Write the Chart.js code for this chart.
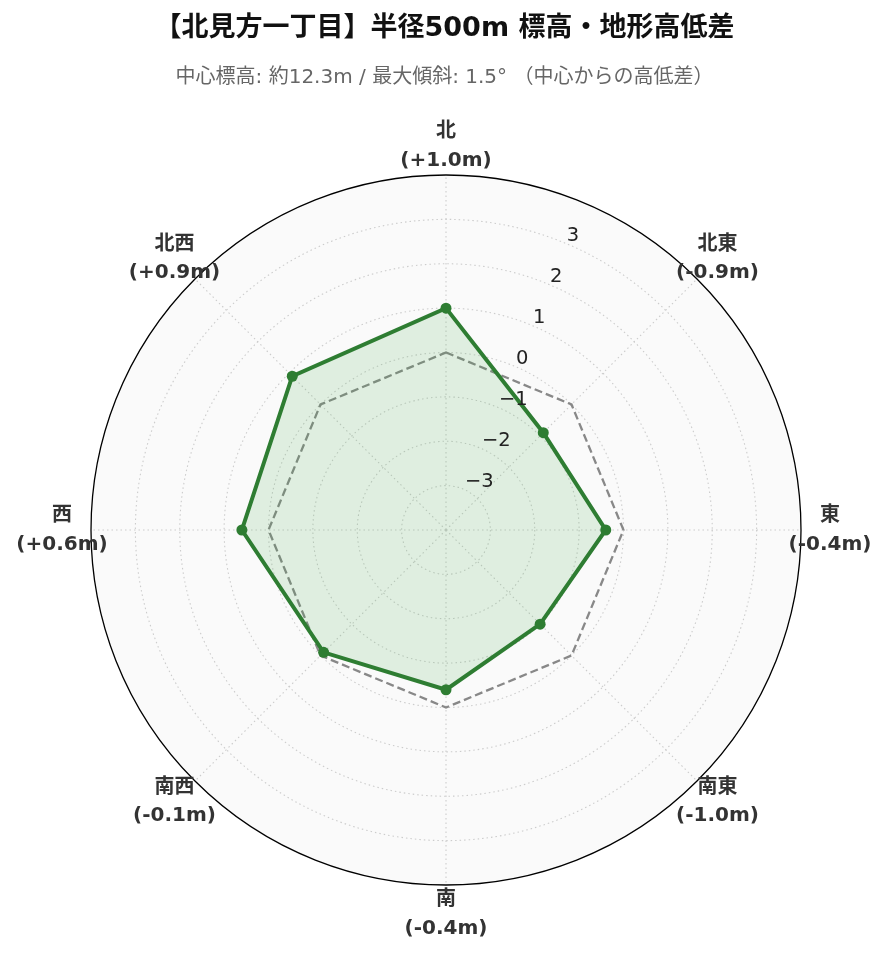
<!DOCTYPE html>
<html lang="ja">
<head>
<meta charset="utf-8">
<title>北見方一丁目 標高・地形高低差</title>
<script src="https://cdn.jsdelivr.net/npm/chart.js@4.4.1/dist/chart.umd.min.js"></script>
<style>
  html, body { margin: 0; padding: 0; background: #fff; }
  #wrap { position: relative; width: 889px; height: 962px; }
  #wrap canvas { position: absolute; left: 0; top: 0; }
  .head { position: absolute; left: 0; width: 889px; margin: 0; text-align: center;
          font-family: "DejaVu Sans", "Noto Sans CJK JP", sans-serif; z-index: 2; }
  h1.head { top: 11px; font-size: 27px; line-height: 32px; color: #111; font-weight: bold; }
  p.head { top: 63px; font-size: 20px; line-height: 26px; color: #666; }
</style>
</head>
<body>
<div id="wrap">
  <h1 class="head">【北見方一丁目】半径500m 標高・地形高低差</h1>
  <p class="head">中心標高: 約12.3m / 最大傾斜: 1.5° （中心からの高低差）</p>
  <canvas id="radarChart" width="889" height="962"></canvas>
</div>
<script>
// Data
const directions = ["北", "北東", "東", "南東", "南", "南西", "西", "北西"];
const diffs = [1.0, -0.9, -0.4, -1.0, -0.4, -0.1, 0.6, 0.9];
const baseline = [0, 0, 0, 0, 0, 0, 0, 0];
const rTicks = [-3, -2, -1, 0, 1, 2, 3];
const rMin = -4;
const rMax = 4;

const fmtDiff = v => (v >= 0 ? "+" : "-") + Math.abs(v).toFixed(1) + "m";
const fmtTick = v => (v < 0 ? "\u2212" + Math.abs(v) : String(v));

// Tick labels at 22.5deg and two-line direction labels
const polarLabels = {
  id: "polarLabels",
  afterDatasetsDraw(chart) {
    const r = chart.scales.r;
    const ctx = chart.ctx;
    ctx.save();

    const ang = -Math.PI / 2 + Math.PI / 8;
    ctx.font = '19.5px "DejaVu Sans", sans-serif';
    ctx.fillStyle = "#222";
    ctx.textAlign = "left";
    ctx.textBaseline = "alphabetic";
    rTicks.forEach(t => {
      const d = r.getDistanceFromCenterForValue(t);
      const x = r.xCenter + Math.cos(ang) * d + 2;
      const y = r.yCenter + Math.sin(ang) * d - 2;
      ctx.fillText(fmtTick(t), x, y);
    });

    ctx.font = 'bold 20px "DejaVu Sans", "Noto Sans CJK JP", sans-serif';
    ctx.fillStyle = "#333";
    ctx.textAlign = "center";
    ctx.textBaseline = "middle";
    directions.forEach((name, i) => {
      const p = r.getPointPosition(i, r.drawingArea + 29);
      ctx.fillText(name, p.x, p.y - 14);
      ctx.fillText("(" + fmtDiff(diffs[i]) + ")", p.x, p.y + 14.5);
    });
    ctx.restore();
  }
};

const ctx = document.getElementById("radarChart").getContext("2d");
const chart = new Chart(ctx, {
  type: "radar",
  data: {
    labels: directions,
    datasets: [
      {
        label: "高低差",
        data: diffs,
        borderColor: "#2e7d32",
        backgroundColor: "rgba(76, 175, 80, 0.15)",
        borderWidth: 4,
        fill: "start",
        pointRadius: 5.5,
        pointBackgroundColor: "#2e7d32",
        pointBorderColor: "#2e7d32",
        pointBorderWidth: 0
      },
      {
        label: "基準 (0m)",
        data: baseline,
        borderColor: "#888888",
        borderWidth: 2.3,
        borderDash: [8, 4],
        fill: false,
        pointRadius: 0
      }
    ]
  },
  options: {
    responsive: false,
    animation: false,
    layout: { padding: { left: 91, right: 88, top: 175, bottom: 77 } },
    plugins: {
      legend: { display: false },
      tooltip: { enabled: false }
    },
    scales: {
      r: {
        min: rMin,
        max: rMax,
        backgroundColor: "#fafafa",
        ticks: { stepSize: 1, display: false },
        pointLabels: { display: false },
        grid: {
          circular: true,
          color: c => (c.tick && c.tick.value === rMax ? "#000000" : "#cccccc"),
          lineWidth: c => (c.tick && c.tick.value === rMax ? 1.3 : 1.1)
        },
        border: {
          dash: c => (c.tick && c.tick.value === rMax ? [] : [1.5, 3])
        },
        angleLines: {
          color: "#cccccc",
          lineWidth: 1.1,
          borderDash: [1.5, 3]
        }
      }
    }
  },
  plugins: [polarLabels]
});
</script>
</body>
</html>
